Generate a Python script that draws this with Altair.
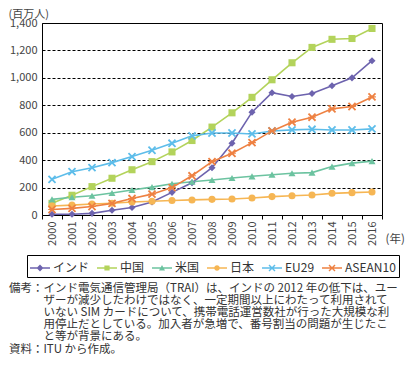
import altair as alt
import pandas as pd

years = [str(y) for y in range(2000, 2017)]
series_names = ["インド", "中国", "米国", "日本", "EU29", "ASEAN10"]

india = [5, 6, 12, 35, 55, 95, 165, 235, 345, 523, 750, 892, 864, 886, 943, 1000, 1125]
china = [85, 144, 207, 268, 330, 389, 460, 543, 641, 745, 858, 986, 1110, 1222, 1281, 1287, 1360]
usa = [114, 129, 140, 160, 182, 203, 228, 242, 255, 270, 282, 294, 304, 309, 353, 378, 393]
japan = [66, 72, 80, 86, 95, 100, 106, 110, 114, 117, 124, 134, 140, 146, 158, 163, 168]
eu29 = [260, 316, 345, 382, 426, 472, 523, 577, 598, 598, 591, 613, 621, 625, 620, 620, 628]
asean = [40, 48, 62, 85, 120, 152, 200, 286, 389, 450, 528, 613, 677, 713, 774, 791, 861]

colors = ["#6D63AE", "#B3D35B", "#6CC3A0", "#F6B654", "#5DBDEA", "#EE8142"]

IND = "\u200b\u3000\u3000\u3000"
note_lines = [
    "備考：インド電気通信管理局（TRAI）は、インドの 2012 年の低下は、ユー",
    IND + "ザーが減少したわけではなく、一定期間以上にわたって利用されて",
    IND + "いない SIM カードについて、携帯電話運営数社が行った大規模な利",
    IND + "用停止だとしている。加入者が急増で、番号割当の問題が生じたこ",
    IND + "と等が背景にある。",
    "資料：ITU から作成。",
]

X_PATH = ("M-0.82,-1.18L1.18,0.82L0.82,1.18L-1.18,-0.82Z"
          "M-1.18,0.82L0.82,-1.18L1.18,-0.82L-0.82,1.18Z")
AST_PATH = X_PATH + "M-1.1,-0.16L1.1,-0.16L1.1,0.16L-1.1,0.16Z"
point_shapes = ["diamond", "square", "triangle-up", "circle", X_PATH, AST_PATH]

LINE = "M-1,-0.075L1,-0.075L1,0.075L-1,0.075Z"
legend_shapes = [
    LINE + "M0,-0.34L0.34,0L0,0.34L-0.34,0Z",
    LINE + "M-0.26,-0.26L0.26,-0.26L0.26,0.26L-0.26,0.26Z",
    LINE + "M0,-0.3L0.3,0.24L-0.3,0.24Z",
    LINE + "M0.28,0A0.28,0.28,0,1,1,-0.28,0A0.28,0.28,0,1,1,0.28,0Z",
    LINE + "M-0.25,-0.35L0.35,0.25L0.25,0.35L-0.35,-0.25Z"
           "M-0.35,0.25L0.25,-0.35L0.35,-0.25L-0.25,0.35Z",
    LINE + "M-0.25,-0.35L0.35,0.25L0.25,0.35L-0.35,-0.25Z"
           "M-0.35,0.25L0.25,-0.35L0.35,-0.25L-0.25,0.35Z",
]

rows = []
for name, vals in zip(series_names, [india, china, usa, japan, eu29, asean]):
    for y, v in zip(years, vals):
        rows.append({"year": y, "series": name, "value": v})
df = pd.DataFrame(rows)

FONT = "Noto Sans CJK JP"

x_enc = alt.X(
    "year:O", sort=years,
    scale=alt.Scale(type="band", paddingInner=0, paddingOuter=0),
    axis=alt.Axis(
        labelAngle=-90, labelAlign="right", labelBaseline="middle",
        tickBand="extent", ticks=True, tickSize=4, tickColor="black",
        domain=False, labelPadding=2, labelFontSize=11, labelColor="#444",
        labelFont=FONT,
        title="(年)", titleAngle=0, titleX=343, titleY=24,
        titleAlign="left", titleBaseline="middle", titleFontWeight="normal",
        titleFontSize=11.5, titleColor="#444", titleFont=FONT,
    ),
)
y_enc = alt.Y(
    "value:Q",
    scale=alt.Scale(domain=[0, 1400], nice=False),
    axis=alt.Axis(
        values=[0, 200, 400, 600, 800, 1000, 1200, 1400], format=",d",
        grid=True, gridDash=[3, 2], gridColor="black", gridWidth=1,
        ticks=False, domain=False, labelFontSize=11, labelColor="#444",
        labelFont=FONT, labelPadding=5,
        title="(百万人)", titleAngle=0, titleX=-34, titleY=-9,
        titleAlign="left", titleBaseline="middle", titleFontWeight="normal",
        titleFontSize=11, titleColor="#444", titleFont=FONT,
    ),
)

color_plain = alt.Color("series:N", sort=series_names,
                        scale=alt.Scale(domain=series_names, range=colors), legend=None)

base = alt.Chart(df).encode(x=x_enc, y=y_enc)

lines = base.mark_line(strokeWidth=1.6).encode(color=color_plain)

points = base.mark_point(filled=True, size=50, opacity=1).encode(
    color=color_plain,
    shape=alt.Shape("series:N", sort=series_names,
                    scale=alt.Scale(domain=series_names, range=point_shapes), legend=None),
)

leg = alt.Legend(
    title=None, orient="none", legendX=-15, legendY=232, direction="horizontal",
    strokeColor="black", padding=3, labelFontSize=12, labelFont=FONT,
    labelColor="#333", symbolSize=400, symbolStrokeWidth=0, labelOffset=3,
    columnPadding=7,
)

legend_layer = base.mark_point(filled=True, opacity=1).encode(
    color=alt.Color("series:N", sort=series_names,
                    scale=alt.Scale(domain=series_names, range=colors), legend=leg),
    shape=alt.Shape("series:N", sort=series_names,
                    scale=alt.Scale(domain=series_names, range=legend_shapes), legend=leg),
).transform_filter("false")

chart = alt.layer(lines, points, legend_layer).resolve_scale(
    color="independent", shape="independent"
).properties(
    width=340, height=192, autosize="none",
    padding={"left": 34, "top": 15, "right": 23, "bottom": 150},
    title=alt.TitleParams(
        text=note_lines, orient="bottom", anchor="start", frame="bounds",
        fontSize=11.5, fontWeight="normal", font=FONT, color="#333",
        lineHeight=12.2, offset=5, dx=1, baseline="top",
    ),
).configure_view(stroke="black", strokeWidth=1)

chart.save("out.html", embed_options={"renderer": "svg", "actions": False})
